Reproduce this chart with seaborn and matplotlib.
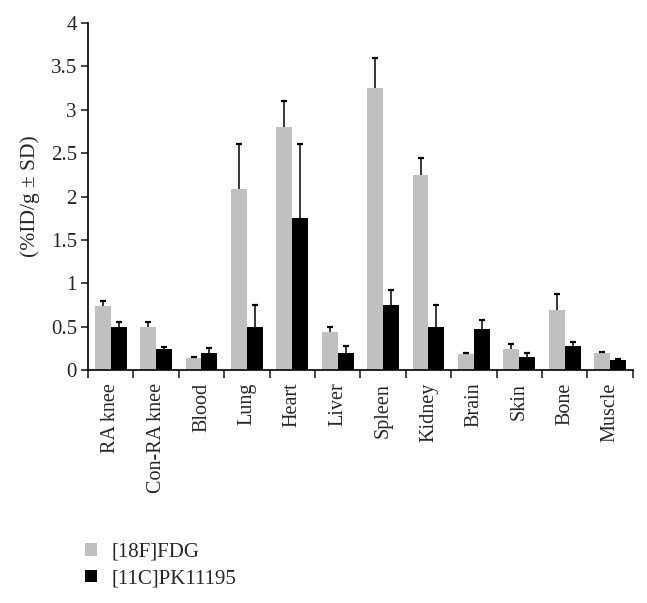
"""
Biodistribution bar chart: [18F]FDG vs [11C]PK11195
"""
import matplotlib
matplotlib.use("Agg")
import matplotlib.pyplot as plt
import seaborn as sns
import pandas as pd
import numpy as np

# data
organs = ["RA knee", "Con-RA knee", "Blood", "Lung", "Heart", "Liver",
          "Spleen", "Kidney", "Brain", "Skin", "Bone", "Muscle"]
tracers = ["[18F]FDG", "[11C]PK11195"]
fdg_mean = [0.74, 0.50, 0.14, 2.09, 2.80, 0.44, 3.25, 2.25, 0.19, 0.24, 0.69, 0.20]
fdg_sd = [0.06, 0.05, 0.01, 0.51, 0.30, 0.06, 0.35, 0.19, 0.01, 0.06, 0.19, 0.01]
pk_mean = [0.50, 0.25, 0.20, 0.50, 1.75, 0.20, 0.75, 0.50, 0.48, 0.15, 0.28, 0.115]
pk_sd = [0.05, 0.02, 0.06, 0.25, 0.85, 0.08, 0.17, 0.25, 0.10, 0.05, 0.05, 0.01]
colors = ["#c0c0c0", "#000000"]


def main():
    sns.set_style("white")
    plt.rcParams["font.family"] = ["Liberation Serif", "DejaVu Serif"]

    df = pd.DataFrame({
        "organ": organs * 2,
        "tracer": [tracers[0]] * len(organs) + [tracers[1]] * len(organs),
        "value": fdg_mean + pk_mean,
        "sd": fdg_sd + pk_sd,
    })

    fig = plt.figure(figsize=(6.47, 6.03), dpi=100)
    ax = fig.add_axes([0.136, 0.386, 0.842, 0.576])

    sns.barplot(data=df, x="organ", y="value", hue="tracer", order=organs,
                hue_order=tracers, palette=colors, width=0.7, errorbar=None,
                saturation=1, linewidth=0, ax=ax)

    # upper-only SD bars, positioned at the bar centres
    for cont, tr in zip(ax.containers, tracers):
        sub = df[df["tracer"] == tr].set_index("organ").loc[organs]
        xs = [p.get_x() + p.get_width() / 2 for p in cont.patches]
        eb = ax.errorbar(xs, sub["value"].values,
                         yerr=[np.zeros(len(organs)), sub["sd"].values],
                         fmt="none", ecolor="black", elinewidth=1.1,
                         capsize=2.2, capthick=1.6)
        # hide the lower caps that would sit on the bar tops
        eb[1][0].set_visible(False)

    ax.set_ylim(0, 4)
    ax.set_xlim(-0.5, len(organs) - 0.5)
    ax.set_yticks(np.arange(0, 4.01, 0.5))
    ax.set_yticklabels(["0", "0.5", "1", "1.5", "2", "2.5", "3", "3.5", "4"])
    ax.tick_params(axis="y", labelsize=15, length=5, width=1.2, direction="out",
                   left=True, pad=3)
    ax.set_ylabel("(%ID/g ± SD)", fontsize=15.5, labelpad=8)
    ax.set_xlabel("")

    # category labels, separator ticks between categories
    ax.set_xticks(range(len(organs)))
    ax.set_xticklabels(organs, rotation=90, fontsize=14.5)
    ax.tick_params(axis="x", which="major", length=0, pad=9)
    ax.set_xticks(np.arange(-0.5, len(organs)), minor=True)
    ax.tick_params(axis="x", which="minor", length=6, width=1.2,
                   direction="out", bottom=True)

    sns.despine(ax=ax)
    for s in ["left", "bottom"]:
        ax.spines[s].set_linewidth(1.2)
        ax.spines[s].set_color("black")

    handles, labels = ax.get_legend_handles_labels()
    ax.legend_.remove()
    fig.legend(handles, labels, loc="upper left",
               bbox_to_anchor=(0.132, 1 - 543 / 603), frameon=False,
               fontsize=15, handlelength=0.55, handleheight=0.55,
               handletextpad=0.7, labelspacing=0.35, borderpad=0,
               borderaxespad=0)

    fig.savefig("out.png", dpi=100)


if __name__ == "__main__":
    main()
